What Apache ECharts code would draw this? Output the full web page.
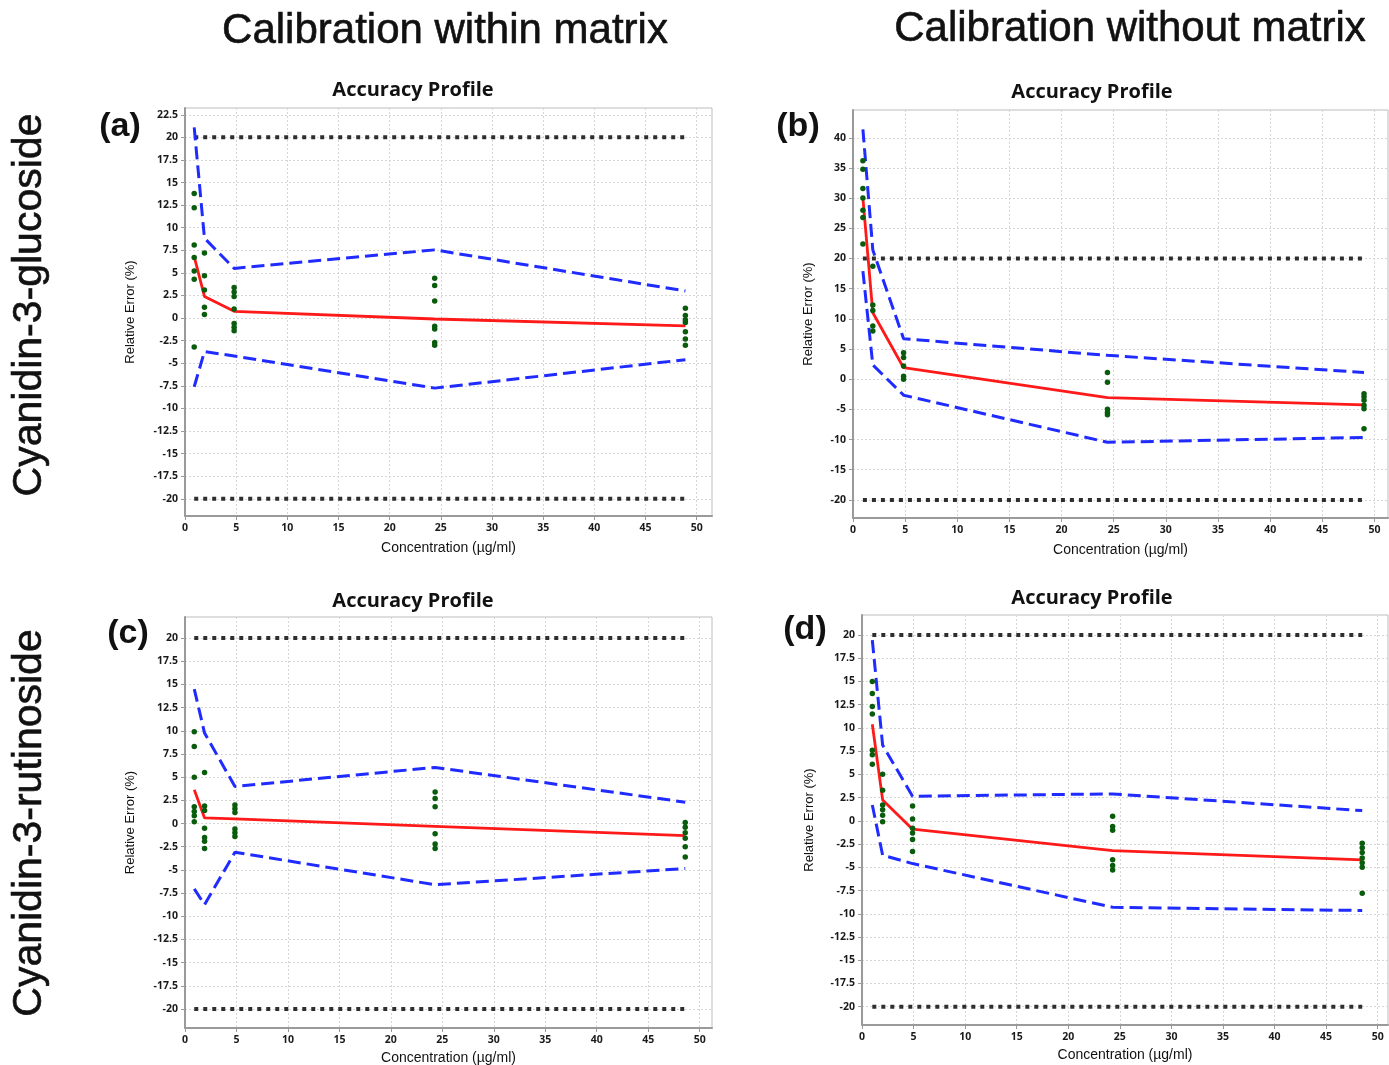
<!DOCTYPE html>
<html>
<head>
<meta charset="utf-8">
<style>html,body{margin:0;padding:0;background:#fff;}#chart{width:1389px;height:1065px;}</style>
<script src="https://cdn.jsdelivr.net/npm/echarts@6/dist/echarts.min.js"></script>
</head>
<body>
<div id="chart"></div>
<script>
// ---------------- data ----------------
const xTicks = [0, 5, 10, 15, 20, 25, 30, 35, 40, 45, 50];
const yTicksA = [-20, -17.5, -15, -12.5, -10, -7.5, -5, -2.5, 0, 2.5, 5, 7.5, 10, 12.5, 15, 17.5, 20, 22.5];
const yTicksB = [-20, -15, -10, -5, 0, 5, 10, 15, 20, 25, 30, 35, 40];
const yTicksC = [-20, -17.5, -15, -12.5, -10, -7.5, -5, -2.5, 0, 2.5, 5, 7.5, 10, 12.5, 15, 17.5, 20];
const yTicksD = [-20, -17.5, -15, -12.5, -10, -7.5, -5, -2.5, 0, 2.5, 5, 7.5, 10, 12.5, 15, 17.5, 20];
const limits = [-20, 20];

// (a) Cyanidin-3-glucoside, calibration within matrix
const concA = [0.9, 1.9, 4.8, 24.4, 48.9];
const upperA = [21.1, 8.85, 5.5, 7.55, 3.0];
const lowerA = [-7.6, -3.7, -4.2, -7.75, -4.6];
const meanA = [6.8, 2.4, 0.75, -0.1, -0.85];
const pointsA = [
  [13.8, 12.2, 8.1, 6.7, 5.2, 4.3, -3.2],
  [7.2, 4.7, 3.1, 1.2, 0.4],
  [3.4, 2.9, 2.4, 1.0, -0.6, -1.0, -1.4],
  [4.4, 3.6, 1.9, -0.9, -1.2, -2.7, -3.0],
  [1.1, 0.3, -0.2, -0.5, -1.5, -2.3, -3.0]
];

// (b) Cyanidin-3-glucoside, calibration without matrix
const concB = [0.95, 1.9, 4.85, 24.4, 49.0];
const upperB = [41.4, 21.4, 6.7, 3.95, 1.1];
const lowerB = [17.9, 2.35, -2.65, -10.45, -9.65];
const meanB = [30.0, 11.0, 1.9, -3.05, -4.25];
const pointsB = [
  [36.2, 34.8, 31.6, 30.0, 28.0, 26.8, 22.4],
  [18.7, 12.3, 11.4, 8.8, 8.0],
  [4.4, 3.6, 2.2, 0.5, 0.0],
  [1.1, -0.5, -5.0, -5.5, -5.9],
  [-2.4, -2.9, -3.5, -4.3, -4.9, -8.2]
];

// (c) Cyanidin-3-rutinoside, calibration within matrix
const concC = [0.9, 1.9, 4.85, 24.3, 48.6];
const upperC = [14.5, 9.75, 4.0, 6.05, 2.3];
const lowerC = [-7.05, -8.75, -3.1, -6.6, -4.85];
const meanC = [3.65, 0.6, 0.5, -0.3, -1.3];
const pointsC = [
  [9.9, 8.3, 5.0, 1.8, 1.3, 0.85, 0.2],
  [5.5, 1.9, 1.4, -0.5, -1.5, -1.9, -2.7],
  [2.0, 1.6, 1.2, -0.6, -1.0, -1.4],
  [3.4, 2.7, 1.8, -1.1, -2.2, -2.7],
  [0.1, -0.4, -1.0, -1.6, -2.5, -3.6]
];

// (d) Cyanidin-3-rutinoside, calibration without matrix
const concD = [1.0, 2.0, 4.9, 24.3, 48.5];
const upperD = [19.45, 8.15, 2.65, 2.9, 1.1];
const lowerD = [1.7, -3.7, -4.6, -9.3, -9.65];
const meanD = [10.4, 2.25, -0.9, -3.2, -4.2];
const pointsD = [
  [15.0, 13.7, 12.3, 11.5, 7.6, 7.1, 6.1],
  [5.0, 3.3, 1.7, 1.2, 0.6, -0.1],
  [1.6, 0.2, -0.8, -1.3, -2.0, -3.3],
  [0.5, -0.6, -1.0, -4.2, -4.8, -5.3],
  [-2.4, -2.9, -3.4, -4.0, -4.5, -5.0, -7.8]
];

const panelLabels = ['(a)', '(b)', '(c)', '(d)'];
const colTitles = ['Calibration within matrix', 'Calibration without matrix'];
const rowTitles = ['Cyanidin-3-glucoside', 'Cyanidin-3-rutinoside'];
const plotTitle = 'Accuracy Profile';
const xName = 'Concentration (\u00b5g/ml)';
const yName = 'Relative Error (%)';

// ---------------- layout (styles / positions) ----------------
const panels = [
  {conc: concA, up: upperA, lo: lowerA, mean: meanA, pts: pointsA, yt: yTicksA,
   grid: {left: 185, top: 108, width: 527, height: 408}, xmax: 51.5, ymin: -21.9, ymax: 23.25,
   yGap: 48, xGap: 25, title: [413, 90], label: [120, 127]},
  {conc: concB, up: upperB, lo: lowerB, mean: meanB, pts: pointsB, yt: yTicksB,
   grid: {left: 853, top: 110, width: 535, height: 408}, xmax: 51.3, ymin: -23, ymax: 44.6,
   yGap: 38, xGap: 25, title: [1092, 92], label: [798, 127]},
  {conc: concC, up: upperC, lo: lowerC, mean: meanC, pts: pointsC, yt: yTicksC,
   grid: {left: 185, top: 617, width: 527, height: 411}, xmax: 51.2, ymin: -22.05, ymax: 22.27,
   yGap: 48, xGap: 23, title: [413, 601], label: [128, 634]},
  {conc: concD, up: upperD, lo: lowerD, mean: meanD, pts: pointsD, yt: yTicksD,
   grid: {left: 862, top: 615, width: 526, height: 410}, xmax: 51.0, ymin: -21.97, ymax: 22.15,
   yGap: 46, xGap: 23, title: [1092, 598], label: [805, 630]}
];

const tickFont = {fontFamily: 'Open Sans', fontWeight: 'bold', fontSize: 10.5, color: '#1a1a1a'};
const grids = [], xAxes = [], yAxes = [], series = [];

panels.forEach((p, i) => {
  grids.push(Object.assign({show: true, backgroundColor: '#fff', borderColor: '#bdbdbd', borderWidth: 1,
    containLabel: false, outerBoundsMode: 'none'}, p.grid));
  xAxes.push({
    gridIndex: i, type: 'value', min: 0, max: p.xmax,
    name: xName, nameLocation: 'middle', nameGap: p.xGap,
    nameTextStyle: {fontFamily: 'Liberation Sans', fontSize: 14, color: '#111'},
    axisLine: {show: true, onZero: false, lineStyle: {color: '#9a9a9a', width: 2}},
    axisTick: {show: true, customValues: xTicks, length: 4, lineStyle: {color: '#999'}},
    axisLabel: Object.assign({customValues: xTicks, margin: 7}, tickFont),
    splitLine: {show: true, lineStyle: {color: '#d6d6d6', type: [2, 2], width: 1}}
  });
  yAxes.push({
    gridIndex: i, type: 'value', min: p.ymin, max: p.ymax,
    name: yName, nameLocation: 'middle', nameGap: p.yGap,
    nameTextStyle: {fontFamily: 'Liberation Sans', fontSize: 13, color: '#111'},
    axisLine: {show: true, onZero: false, lineStyle: {color: '#9a9a9a', width: 2}},
    axisTick: {show: true, customValues: p.yt, length: 4, lineStyle: {color: '#999'}},
    axisLabel: Object.assign({customValues: p.yt, margin: 7}, tickFont),
    splitLine: {show: true, lineStyle: {color: '#d6d6d6', type: [2, 2], width: 1}}
  });
  const pair = (arr) => p.conc.map((c, k) => [c, arr[k]]);
  const first = p.conc[0], last = p.conc[p.conc.length - 1];
  limits.forEach(l => {
    series.push({type: 'line', xAxisIndex: i, yAxisIndex: i, data: [[first, l], [last, l]],
      symbol: 'none', silent: true, z: 3,
      lineStyle: {color: '#2e2e2e', width: 4, type: [4, 5], cap: 'butt'}});
  });
  [p.up, p.lo].forEach(arr => {
    series.push({type: 'line', xAxisIndex: i, yAxisIndex: i, data: pair(arr), symbol: 'none', z: 4,
      lineStyle: {color: '#1f2bff', width: 3, type: [13, 6]}});
  });
  series.push({type: 'line', xAxisIndex: i, yAxisIndex: i, data: pair(p.mean), symbol: 'none', z: 5,
    lineStyle: {color: '#ff1a1a', width: 2.8}});
  const sc = [];
  p.pts.forEach((col, k) => col.forEach(v => sc.push([p.conc[k], v])));
  series.push({type: 'scatter', xAxisIndex: i, yAxisIndex: i, data: sc, symbol: 'circle', symbolSize: 5.5, z: 6,
    itemStyle: {color: '#0a5c0d', opacity: 1}});
});

const graphics = [];
panels.forEach((p, i) => {
  graphics.push({type: 'text', x: p.title[0], y: p.title[1],
    style: {text: plotTitle, font: 'bold 20px "Open Sans"', fill: '#111', textAlign: 'center', textVerticalAlign: 'middle'}});
  graphics.push({type: 'text', x: p.label[0], y: p.label[1],
    style: {text: panelLabels[i], font: 'bold 34px "Liberation Sans"', fill: '#111', textAlign: 'center', textVerticalAlign: 'middle'}});
});
const bigStyle = {fill: '#111', stroke: '#111', lineWidth: 0.6, textAlign: 'center', textVerticalAlign: 'middle'};
graphics.push({type: 'text', x: 445, y: 31, style: Object.assign({text: colTitles[0], font: '42px "Liberation Sans"'}, bigStyle)});
graphics.push({type: 'text', x: 1130, y: 29, style: Object.assign({text: colTitles[1], font: '42px "Liberation Sans"'}, bigStyle)});
graphics.push({type: 'text', x: 30, y: 305, rotation: Math.PI / 2, style: Object.assign({text: rowTitles[0], font: '41px "Liberation Sans"'}, bigStyle)});
graphics.push({type: 'text', x: 30, y: 823, rotation: Math.PI / 2, style: Object.assign({text: rowTitles[1], font: '41px "Liberation Sans"'}, bigStyle)});

const chart = echarts.init(document.getElementById('chart'), null, {renderer: 'canvas'});
chart.setOption({
  animation: false,
  backgroundColor: '#fff',
  grid: grids, xAxis: xAxes, yAxis: yAxes, series: series,
  graphic: graphics
});
</script>
</body>
</html>
